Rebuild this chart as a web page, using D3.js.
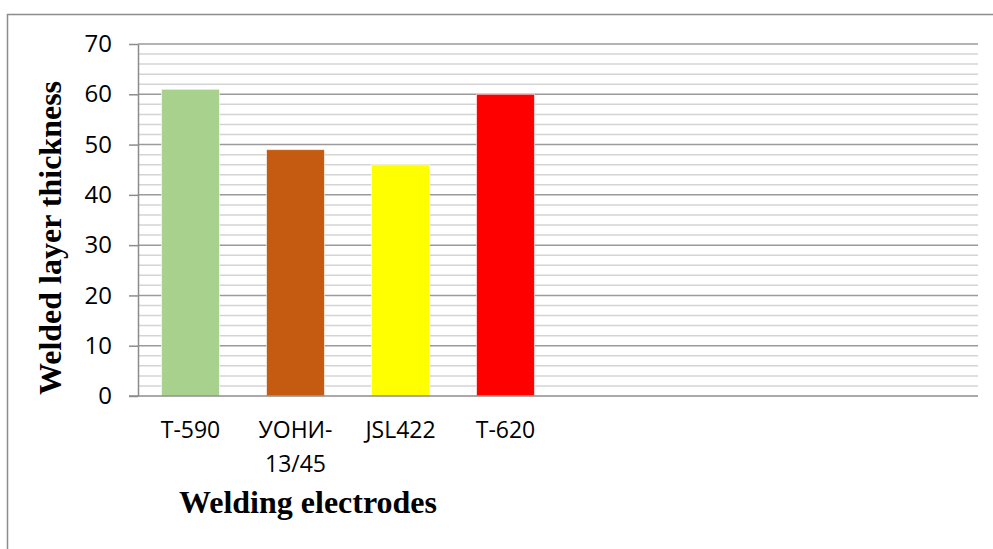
<!DOCTYPE html>
<html>
<head>
<meta charset="utf-8">
<script src="https://cdn.jsdelivr.net/npm/d3@7"></script>
<style>
  html, body { margin: 0; padding: 0; background: #fff; }
  svg { display: block; }
</style>
</head>
<body>
<svg id="chart" width="993" height="549"></svg>
<script>
// Electrode names and measured welded layer thickness
const categories = ["T-590", "УОНИ-13/45", "JSL422", "T-620"];
const thickness = [61, 49, 46, 60];
const barColors = ["#a9d18e", "#c55a11", "#ffff00", "#ff0000"];
const slotCount = 8;              // the category axis reserves 8 slots
const yTicks = [0, 10, 20, 30, 40, 50, 60, 70];
const yMinorStep = 2;

const svg = d3.select("#chart");
const W = 993, H = 549;
const plot = { left: 138, right: 978, top: 44, bottom: 396 };

// chart frame
svg.append("rect")
  .attr("x", 7.5).attr("y", 14.5)
  .attr("width", W + 20).attr("height", H + 20)
  .attr("fill", "#fff").attr("stroke", "#8c8c8c").attr("stroke-width", 1.5);

const x = d3.scaleBand()
  .domain(d3.range(slotCount))
  .range([plot.left, plot.right])
  .paddingInner(0.448)
  .paddingOuter(0.224);

const y = d3.scaleLinear().domain([0, 70]).range([plot.bottom, plot.top]);

// minor gridlines
const minor = d3.range(0, 70 + 0.001, yMinorStep).filter(v => v % 10 !== 0);
svg.append("g").selectAll("line").data(minor).join("line")
  .attr("x1", plot.left).attr("x2", plot.right)
  .attr("y1", d => y(d)).attr("y2", d => y(d))
  .attr("stroke", "#d4d4d4").attr("stroke-width", 1.5);

// major gridlines
svg.append("g").selectAll("line").data(yTicks.filter(v => v > 0)).join("line")
  .attr("x1", plot.left).attr("x2", plot.right)
  .attr("y1", d => y(d)).attr("y2", d => y(d))
  .attr("stroke", "#9a9a9a").attr("stroke-width", 1.5);

// bars
svg.append("g").selectAll("rect").data(thickness).join("rect")
  .attr("x", (d, i) => x(i))
  .attr("width", x.bandwidth())
  .attr("y", d => y(d))
  .attr("height", d => y(0) - y(d))
  .attr("fill", (d, i) => barColors[i])
  .attr("stroke", "#ffffff").attr("stroke-opacity", 0.6).attr("stroke-width", 1);

// y axis
const yAxis = svg.append("g")
  .attr("transform", `translate(${plot.left},0)`)
  .call(d3.axisLeft(y).tickValues(yTicks).tickSizeInner(9).tickSizeOuter(0).tickPadding(17));
yAxis.select(".domain").attr("stroke", "#8c8c8c").attr("stroke-width", 1.5);
yAxis.selectAll(".tick line").attr("stroke", "#8c8c8c").attr("stroke-width", 1.5);
yAxis.selectAll(".tick text")
  .attr("font-family", "'Open Sans', sans-serif").attr("font-size", 24).attr("fill", "#000");

// x axis
const xAxis = svg.append("g")
  .attr("transform", `translate(0,${plot.bottom})`)
  .call(d3.axisBottom(x).tickSize(0).tickPadding(0).tickFormat(i => categories[i] || ""));
xAxis.select(".domain").attr("stroke", "#8c8c8c").attr("stroke-width", 1.5)
  .attr("d", `M${plot.left - 9},0H${plot.right}`);
xAxis.selectAll(".tick text")
  .attr("font-family", "'Open Sans', sans-serif").attr("font-size", 23).attr("fill", "#000")
  .attr("dy", null).attr("y", 42)
  .each(function(i) {
    const label = categories[i];
    if (!label) return;
    const t = d3.select(this);
    if (this.getComputedTextLength() > x.step() * 0.9 && label.includes("-")) {
      const k = label.indexOf("-") + 1;
      t.text(null);
      t.append("tspan").attr("x", 0).attr("y", 42).text(label.slice(0, k));
      t.append("tspan").attr("x", 0).attr("y", 76).text(label.slice(k));
    }
  });

// axis titles
svg.append("text")
  .attr("transform", `translate(61,238) rotate(-90)`)
  .attr("text-anchor", "middle")
  .attr("font-family", "'Liberation Serif', 'Times New Roman', serif")
  .attr("font-weight", "bold").attr("font-size", 32)
  .text("Welded layer thickness");

svg.append("text")
  .attr("x", 308).attr("y", 513)
  .attr("text-anchor", "middle")
  .attr("font-family", "'Liberation Serif', 'Times New Roman', serif")
  .attr("font-weight", "bold").attr("font-size", 32)
  .text("Welding electrodes");
</script>
</body>
</html>
